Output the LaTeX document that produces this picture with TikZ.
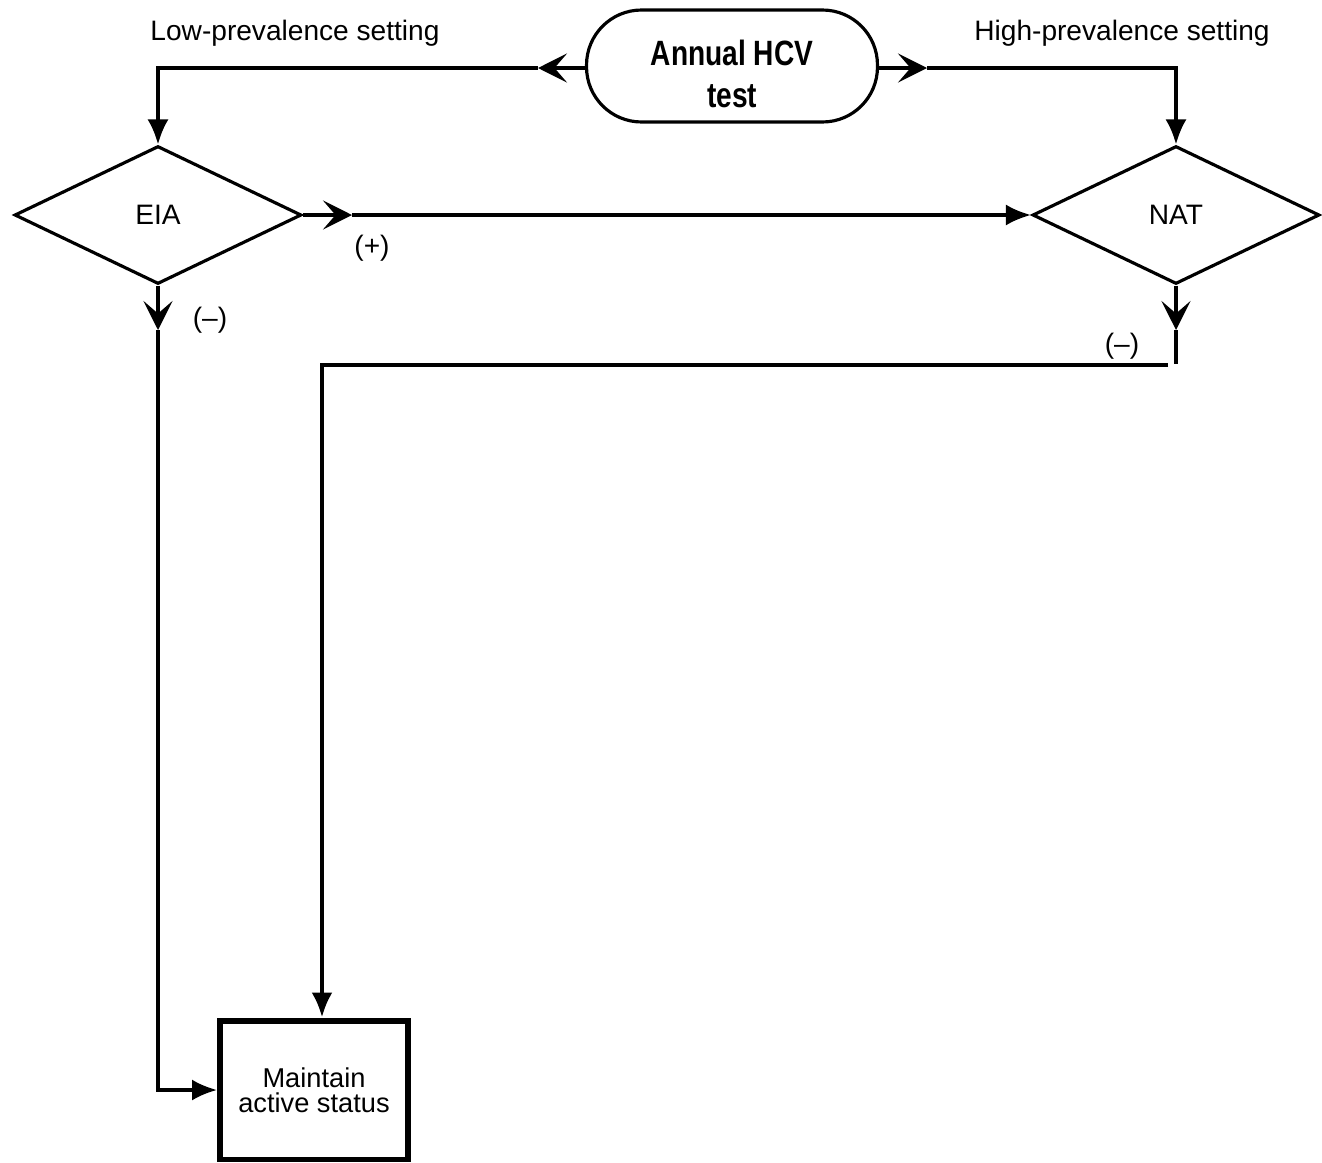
\documentclass[tikz,border=0pt]{standalone}
\usepackage{fontspec}
\setmainfont{Liberation Sans}
\newfontfamily\narrowfont[FakeStretch=0.8]{Liberation Sans}
\usetikzlibrary{shapes.geometric,arrows.meta,positioning,calc}
\tikzstyle{decision} = [draw, shape=diamond, line width=1.8pt, minimum width=5.74cm, minimum height=2.76cm, inner sep=0pt]
\tikzstyle{startstop} = [draw, shape=rectangle, rounded corners=1.1cm, line width=1.8pt, minimum width=5.82cm, minimum height=2.24cm, align=center, text height=1.66cm, font=\narrowfont\bfseries\fontsize{20}{24}\selectfont]
\tikzstyle{process} = [draw, shape=rectangle, line width=3.4pt, minimum width=3.76cm, minimum height=2.78cm, align=center, font=\fontsize{15.5}{14}\selectfont]
\tikzstyle{Line} = [line width=1.8pt]
\tikzstyle{Arrow} = [-{Latex[length=0.5cm,width=0.42cm]}, line width=1.8pt]
\tikzstyle{MidArrow} = [-{Stealth[length=0.58cm,width=0.58cm,inset=0.25cm]}, line width=1.8pt]

\begin{document}
\begin{tikzpicture}[x=0.02cm, y=-0.02cm, font=\fontsize{16}{19}\selectfont]
            \useasboundingbox (0,0) rectangle (1322,1163);
            %%%%% Start %%%%%
            \node (test) [startstop] at (732,66) {Annual HCV\\test};
            \node (low) at (295,33) {Low-prevalence setting};
            \node (high) at (1122,33) {High-prevalence setting};
            %%%%% Tests %%%%%
            \node (EIA) [decision] at (158,215) {EIA};
            \node (NAT) [decision] at (1176,215) {NAT};
            \node (keep) [process] at (314,1090) {Maintain\\active status};
            \node (pos) at (372,248) {(+)};
            \node (eneg) at (210,320) {(–)};
            \node (nneg) at (1122,346) {(–)};
            %%%%% Points on the lines %%%%%
            \coordinate (la) at (538,68);
            \coordinate (ra) at (927,68);
            \coordinate (tl) at (158,68);
            \coordinate (tr) at (1176,68);
            \coordinate (ep) at (352,215);
            \coordinate (em) at (158,330);
            \coordinate (nm) at (1176,330);
            \coordinate (ne) at (1176,364);
            \coordinate (nt) at (1168,365);
            %%%%% Edges %%%%%
            \draw [MidArrow] (test.west |- la) -- (la);
            \draw [Arrow] (la) -- (tl) -- (EIA.north);
            \draw [MidArrow] (test.east |- ra) -- (ra);
            \draw [Arrow] (ra) -- (tr) -- (NAT.north);
            \draw [MidArrow] (EIA.east) -- (ep);
            \draw [Arrow] (ep) -- (NAT.west);
            \draw [MidArrow] (EIA.south) -- (em);
            \draw [Arrow] (em) |- (keep.west);
            \draw [MidArrow] (NAT.south) -- (nm);
            \draw [Line] (nm) -- (ne);
            \draw [Arrow, line width=2.4pt] (nt) -| ($(keep.north)+(8,0)$);
\end{tikzpicture}
\end{document}
